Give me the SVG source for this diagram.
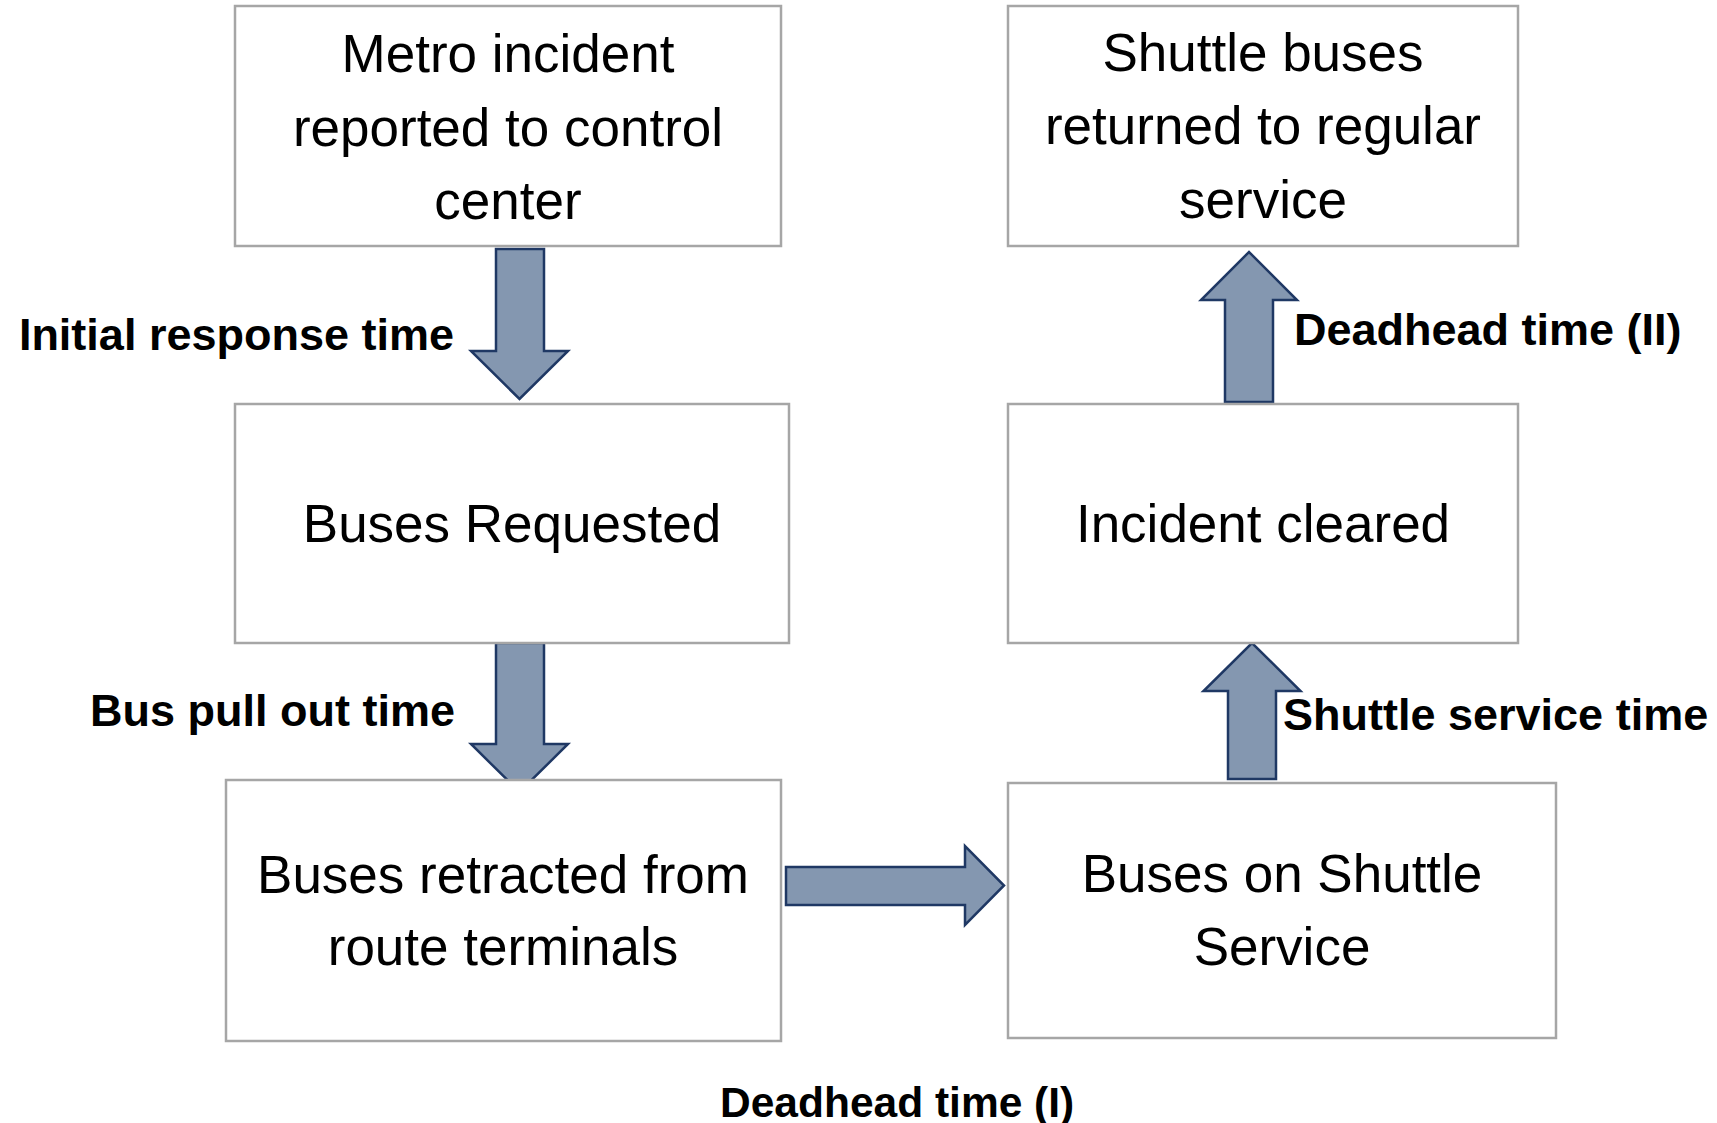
<svg xmlns="http://www.w3.org/2000/svg" width="1717" height="1123" viewBox="0 0 1717 1123">
  <style>
    .box { fill: #ffffff; stroke: #a6a6a6; stroke-width: 2.5; }
    .step { font-family: "Liberation Sans", Arial, sans-serif; font-size: 53px; fill: #000000; text-anchor: middle; }
    .lbl { font-family: "Liberation Sans", Arial, sans-serif; font-size: 45px; font-weight: bold; fill: #000000; }
    .arrow { fill: #8497b0; stroke: #1f3864; stroke-width: 2.5; stroke-linejoin: miter; }
  </style>
  <rect width="1717" height="1123" fill="#ffffff"/>

  <!-- block arrows between stages -->
  <g id="connectors">
    <path class="arrow" d="M496,249 H544 V351 H568 L519.5,399 L471,351 H496 Z"/>
    <path class="arrow" d="M496,643 H544 V744 H568 L519.5,792 L471,744 H496 Z"/>
    <path class="arrow" d="M786,867 H965 V846 L1004,885.5 L965,925 V905 H786 Z"/>
    <path class="arrow" d="M1228,779 V691 H1203.5 L1252,643 L1300.5,691 H1276 V779 Z"/>
    <path class="arrow" d="M1225,402 V300 H1201 L1249,252 L1297,300 H1273 V402 Z"/>
  </g>

  <!-- interval labels -->
  <g id="labels">
    <text class="lbl" x="454" y="350" text-anchor="end">Initial response time</text>
    <text class="lbl" x="455" y="726" text-anchor="end">Bus pull out time</text>
    <text class="lbl" x="720" y="1117" style="font-size:42.5px">Deadhead time (I)</text>
    <text class="lbl" x="1283" y="730">Shuttle service time</text>
    <text class="lbl" x="1294" y="345">Deadhead time (II)</text>
  </g>

  <g id="node-incident-reported">
    <rect class="box" x="235" y="6" width="546" height="240"/>
    <text class="step" x="508" y="72">Metro incident</text>
    <text class="step" x="508" y="146">reported to control</text>
    <text class="step" x="508" y="219">center</text>
  </g>

  <g id="node-buses-requested">
    <rect class="box" x="235" y="404" width="554" height="239"/>
    <text class="step" x="512" y="542">Buses Requested</text>
  </g>

  <g id="node-buses-retracted">
    <rect class="box" x="226" y="780" width="555" height="261"/>
    <text class="step" x="503" y="893">Buses retracted from</text>
    <text class="step" x="503" y="965">route terminals</text>
  </g>

  <g id="node-buses-on-shuttle">
    <rect class="box" x="1008" y="783" width="548" height="255"/>
    <text class="step" x="1282" y="892">Buses on Shuttle</text>
    <text class="step" x="1282" y="965">Service</text>
  </g>

  <g id="node-incident-cleared">
    <rect class="box" x="1008" y="404" width="510" height="239"/>
    <text class="step" x="1263" y="542">Incident cleared</text>
  </g>

  <g id="node-buses-returned">
    <rect class="box" x="1008" y="6" width="510" height="240"/>
    <text class="step" x="1263" y="71">Shuttle buses</text>
    <text class="step" x="1263" y="144">returned to regular</text>
    <text class="step" x="1263" y="218">service</text>
  </g>
</svg>
